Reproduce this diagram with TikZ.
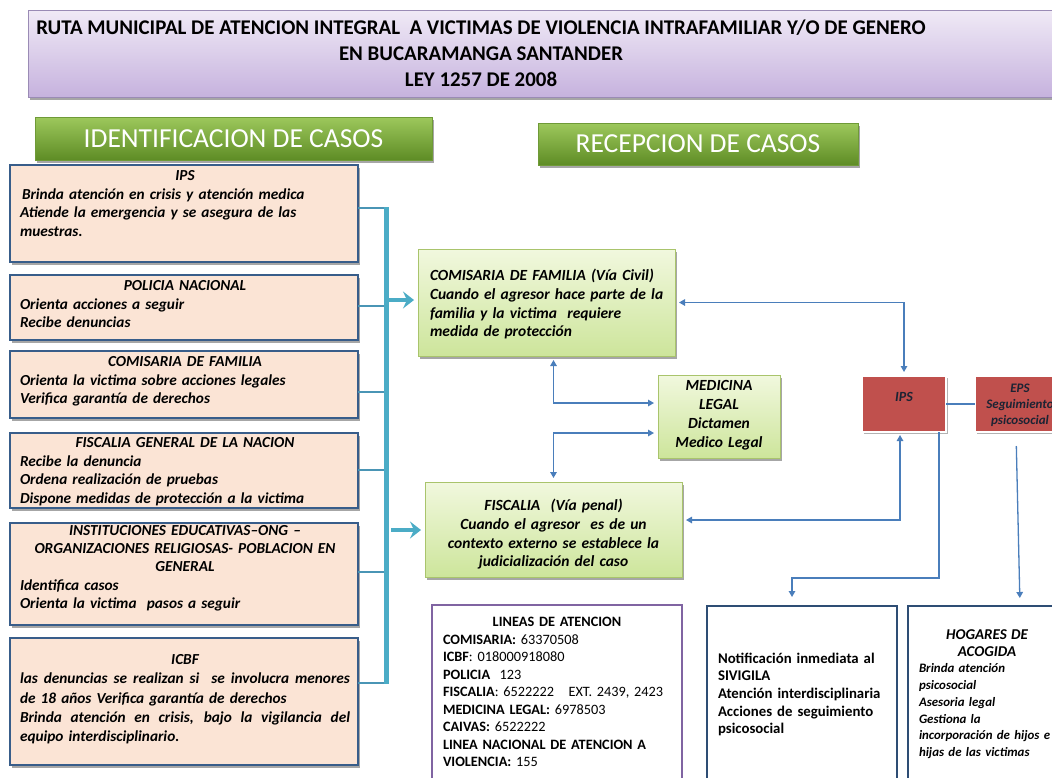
\documentclass[tikz,border=0pt]{standalone}
\usepackage{fontspec}
\setmainfont{Carlito}
\usetikzlibrary{arrows.meta,shadows,calc}
\definecolor{peach}{HTML}{FBE4D5}
\definecolor{lbord}{HTML}{385D8A}
\definecolor{gtop}{HTML}{F1F8DE}
\definecolor{gbot}{HTML}{CDE59B}
\definecolor{gbord}{HTML}{A9C46C}
\definecolor{htop}{HTML}{9DC85C}
\definecolor{hbot}{HTML}{5E8C25}
\definecolor{hbord}{HTML}{6F9A37}
\definecolor{ttop}{HTML}{F0EAF6}
\definecolor{tbot}{HTML}{C6B2DE}
\definecolor{tbord}{HTML}{9A8BB5}
\definecolor{redb}{HTML}{C0504D}
\definecolor{cblue}{HTML}{4A7EBB}
\definecolor{barc}{HTML}{4BACC6}
\definecolor{thinc}{HTML}{4A95B5}
\definecolor{purp}{HTML}{8064A2}
\definecolor{darkb}{HTML}{2E4D74}
\definecolor{rtext}{HTML}{1C2333}
\newcommand{\ctr}[1]{\makebox[\linewidth][c]{#1}}
\newcommand{\jst}[1]{{\spaceskip=0.23em plus 2em\xspaceskip=0.23em plus 2em\makebox[\linewidth][s]{#1}}}
\begin{document}
\begin{tikzpicture}[x=1pt,y=-1pt,
  every node/.style={inner sep=0pt, outer sep=0pt},
  sh/.style={drop shadow={shadow xshift=2pt,shadow yshift=-2.5pt,opacity=.35,fill=black}},
  lbox/.style={draw=lbord, line width=2.2pt, fill=peach, minimum width=348pt, anchor=north west, sh},
  ltxt/.style={anchor=base west, text width=330pt, align=left, font=\bfseries\itshape\fontsize{15.3}{18.5}\selectfont},
  gbox/.style={draw=gbord, line width=.6pt, top color=gtop, bottom color=gbot, anchor=north west, sh},
  gtxt/.style={font=\bfseries\itshape\fontsize{15.5}{18.8}\selectfont},
  hdr/.style={draw=hbord, line width=.6pt, top color=htop, bottom color=hbot, anchor=north west, text=white, font=\fontsize{27.5}{30}\selectfont, sh},
  rbox/.style={fill=redb, draw=white, line width=2.5pt, anchor=north west, minimum width=84pt, minimum height=56pt, drop shadow={shadow xshift=1.5pt,shadow yshift=-1.5pt,opacity=.3,fill=black}},
  wbox/.style={fill=white, anchor=north west, minimum height=175pt},
  cn/.style={draw=cblue, line width=1.3pt},
  sgl/.style={cn, arrows={-Triangle[length=6pt,width=6.5pt]}},
  dbl/.style={cn, arrows={Triangle[length=6pt,width=6.5pt]-Triangle[length=6pt,width=6.5pt]}, shorten <=4pt, shorten >=4pt},
  thinl/.style={draw=thinc, line width=1.2pt},
  barl/.style={draw=barc, line width=5pt},
  bigarr/.style={draw=barc, line width=4.5pt, arrows={-Stealth[length=11pt,width=17pt,inset=4pt]}, shorten >=4pt}
]
\clip (0,0) rectangle (1052,777);
\fill[white] (0,0) rectangle (1052,777);

% title
\node[draw=tbord, line width=.8pt, top color=ttop, bottom color=tbot, anchor=north west, minimum width=1040pt, minimum height=87pt, sh] (title) at (28,10) {};
\node[align=center, font=\bfseries\fontsize{20.9}{26}\selectfont] (titletxt) at (481,53.5) {RUTA MUNICIPAL DE ATENCION INTEGRAL~ A VICTIMAS DE VIOLENCIA INTRAFAMILIAR Y/O DE GENERO\\EN BUCARAMANGA SANTANDER\\LEY 1257 DE 2008};

% headers
\node[hdr, minimum width=397pt, minimum height=43pt] (hid) at (35,117) {IDENTIFICACION DE CASOS};
\node[hdr, minimum width=320pt, minimum height=42pt] (hrec) at (538,123) {RECEPCION DE CASOS};

% left boxes
\node[lbox, minimum height=97pt] (ips) at (10,165) {};
\node[ltxt] (ipst) at (20,180.5) {\ctr{IPS}\\\hspace*{2pt}Brinda atención en crisis y atención medica\\Atiende la emergencia y se asegura de las\\muestras.};
\node[lbox, minimum height=65pt] (pol) at (10,275) {};
\node[ltxt] (polt) at (20,290.5) {\ctr{POLICIA NACIONAL}\\Orienta acciones a seguir\\Recibe denuncias};
\node[lbox, minimum height=67pt] (com) at (10,351) {};
\node[ltxt] (comt) at (20,366.5) {\ctr{COMISARIA DE FAMILIA}\\Orienta la victima sobre acciones legales\\Verifica garantía de derechos};
\node[lbox, minimum height=75pt] (fis) at (10,433) {};
\node[ltxt] (fist) at (20,447.5) {\ctr{FISCALIA GENERAL DE LA NACION}\\Recibe la denuncia\\Ordena realización de pruebas\\Dispone medidas de protección a la victima};
\node[lbox, minimum height=102pt] (ins) at (10,523) {};
\node[ltxt, font=\bfseries\itshape\fontsize{15.3}{18.2}\selectfont] (inst) at (20,535.5) {\ctr{INSTITUCIONES EDUCATIVAS--ONG –}\\\ctr{ORGANIZACIONES RELIGIOSAS- POBLACION EN}\\\ctr{GENERAL}\\Identifica casos\\Orienta la victima~ pasos a seguir};
\node[lbox, minimum height=127pt] (icbf) at (10,638) {};
\node[ltxt, font=\bfseries\itshape\fontsize{15.3}{19.3}\selectfont] (icbft) at (20,664.5) {\ctr{ICBF}\\\jst{las denuncias se realizan si~ se involucra menores}\\de 18 años Verifica garantía de derechos\\\jst{Brinda atención en crisis, bajo la vigilancia del}\\equipo interdisciplinario.};

% bar and connectors
\coordinate (b1) at (386,208);
\coordinate (b2) at (386,306);
\coordinate (b3) at (386,392);
\coordinate (b4) at (386,470);
\coordinate (b5) at (386,572);
\coordinate (b6) at (386,683);
\draw[thinl] (ips.east |- b1) -- (b1);
\draw[thinl] (pol.east |- b2) -- (b2);
\draw[thinl] (com.east |- b3) -- (b3);
\draw[thinl] (fis.east |- b4) -- (b4);
\draw[thinl] (ins.east |- b5) -- (b5);
\draw[thinl] (icbf.east |- b6) -- (b6);
\draw[barl] ($(b1)+(0,-1)$) -- ($(b6)+(0,1)$);

% centre boxes
\node[gbox, minimum width=257pt, minimum height=107pt] (cvc) at (418,249) {};
\node[gtxt, anchor=base west, text width=240pt, align=left] (cvct) at (430,280.5) {COMISARIA DE FAMILIA (Vía Civil)\\Cuando el agresor hace parte de la\\familia y la victima~ requiere\\medida de protección};
\node[gbox, minimum width=257pt, minimum height=95pt] (fvp) at (425,482) {};
\node[gtxt, anchor=base, text width=257pt, align=center] (fvpt) at (553.5,510.5) {FISCALIA~ (Vía penal)\\Cuando el agresor~ es de un\\contexto externo se establece la\\judicialización del caso};
\node[gbox, minimum width=122pt, minimum height=83pt] (med) at (658,375) {};
\node[gtxt, anchor=base, text width=122pt, align=center, font=\bfseries\itshape\fontsize{15.5}{19.3}\selectfont] (medt) at (719,390) {MEDICINA\\LEGAL\\Dictamen\\Medico Legal};

\coordinate (a1) at (389,300);
\coordinate (a2) at (391,530);
\draw[bigarr] (a1) -- (cvc.west |- a1);
\draw[bigarr] (a2) -- (fvp.west |- a2);

% red boxes
\node[rbox] (ipsr) at (862,376) {};
\node[font=\bfseries\itshape\fontsize{14}{16}\selectfont, text=rtext] (ipsrt) at (904,397) {IPS};
\node[rbox, minimum width=91pt] (eps) at (975,376) {};
\node[align=center, font=\bfseries\itshape\fontsize{13}{16}\selectfont, text=rtext] (epst) at (1020,405) {EPS\\Seguimiento\\psicosocial};

% connectors centre
\draw[dbl] ([xshift=7pt]cvc.south) |- ([yshift=13.5pt]med.west);
\draw[dbl] ([yshift=-16.5pt]med.west) -| (fvp.north);
\draw[dbl] (cvc.east) -| (ipsr.north);
\draw[dbl, shorten >=3pt] ([yshift=9.5pt]fvp.east) -| ([xshift=-4pt]ipsr.south);
\draw[cn] (ipsr.east) -- (eps.west);

% bottom boxes
\node[wbox, draw=purp, line width=2pt, minimum width=250pt] (lin) at (432,605) {};
\node[anchor=base west, text width=236pt, align=left, font=\fontsize{14.3}{17.5}\selectfont] (lint) at (443,626.5) {\makebox[228pt][c]{\textbf{LINEAS DE ATENCION}}\\\textbf{COMISARIA:} 63370508\\\textbf{ICBF}: 018000918080\\\textbf{POLICIA}~ 123\\\textbf{FISCALIA}: 6522222~~ EXT. 2439, 2423\\\textbf{MEDICINA LEGAL:} 6978503\\\textbf{CAIVAS:} 6522222\\\textbf{LINEA NACIONAL DE ATENCION A}\\\textbf{VIOLENCIA:} 155};
\node[wbox, draw=darkb, line width=2.5pt, minimum width=190pt] (noti) at (707,606) {};
\node[anchor=base west, text width=180pt, align=left, font=\bfseries\fontsize{14.8}{17.7}\selectfont] (notit) at (718,663) {Notificación inmediata al\\SIVIGILA\\Atención interdisciplinaria\\Acciones de seguimiento\\psicosocial};
\node[wbox, draw=darkb, line width=2.5pt, minimum width=158pt] (hog) at (908,606) {};
\node[anchor=base west, text width=170pt, align=left, font=\bfseries\itshape\fontsize{12.9}{16.7}\selectfont] (hogt) at (919,639.5) {\makebox[136pt][c]{\fontsize{15}{16.7}\selectfont HOGARES DE}\\\makebox[136pt][c]{\fontsize{15}{16.7}\selectfont ACOGIDA}\\Brinda atención\\psicosocial\\Asesoria legal\\Gestiona la\\incorporación de hijos e\\hijas de las victimas};

% lower connectors
\draw[sgl, shorten >=9pt] ([xshift=35pt]ipsr.south) -- ++(0,146) -| ([xshift=-10pt]noti.north);
\draw[sgl, shorten <=14pt, shorten >=8pt] ([xshift=-4.5pt]eps.south) -- ([xshift=33pt]hog.north);
\end{tikzpicture}
\end{document}
